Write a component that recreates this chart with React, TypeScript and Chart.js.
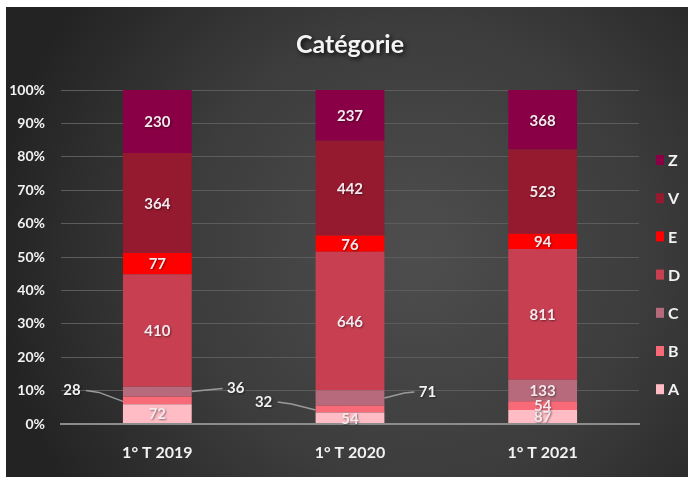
import React, { useEffect, useRef } from "react";
import { Chart, registerables } from "chart.js";

Chart.register(...registerables);

const categories = ["1° T 2019", "1° T 2020", "1° T 2021"];
const seriesNames = ["A", "B", "C", "D", "E", "V", "Z"];
const valuesA = [72, 54, 87];
const valuesB = [28, 32, 54];
const valuesC = [36, 71, 133];
const valuesD = [410, 646, 811];
const valuesE = [77, 76, 94];
const valuesV = [364, 442, 523];
const valuesZ = [230, 237, 368];
const yTickValues = [0, 10, 20, 30, 40, 50, 60, 70, 80, 90, 100];
const titleText = "Catégorie";

const seriesValues = [valuesA, valuesB, valuesC, valuesD, valuesE, valuesV, valuesZ];
const seriesColors = ["#ffbcc5", "#f96a78", "#b66a7b", "#c83f52", "#ff0000", "#951a30", "#8a0046"];

// labels drawn outside the bar with a leader line (series index, category index, side, offsets)
const outsideLabels = [
  { s: 1, c: 0, side: "left", dx: -51, dy: -10 },
  { s: 2, c: 0, side: "right", dx: 44, dy: -3 },
  { s: 1, c: 1, side: "left", dx: -52, dy: -7 },
  { s: 2, c: 1, side: "right", dx: 43, dy: -6 },
];

const FONT = "Lato, 'DejaVu Sans', sans-serif";

const bgPlugin = {
  id: "bg",
  beforeDraw(chart: any) {
    const { ctx, width, height } = chart;
    ctx.save();
    const g = ctx.createRadialGradient(width * 0.6, height * 0.52, 0, width * 0.6, height * 0.52, width * 0.62);
    g.addColorStop(0, "#4e4e4e");
    g.addColorStop(0.55, "#3c3c3c");
    g.addColorStop(1, "#232323");
    ctx.fillStyle = g;
    ctx.fillRect(0, 0, width, height);
    ctx.restore();
  },
};

const overlayPlugin = {
  id: "overlay",
  afterDraw(chart: any) {
    const { ctx, chartArea } = chart;
    ctx.save();
    // title
    ctx.font = `bold 25px ${FONT}`;
    ctx.textAlign = "center";
    ctx.textBaseline = "middle";
    ctx.shadowColor = "rgba(0,0,0,0.75)";
    ctx.shadowBlur = 4;
    ctx.shadowOffsetX = 2;
    ctx.shadowOffsetY = 2;
    ctx.fillStyle = "#f4f4f4";
    ctx.fillText(titleText, 344, 38);
    ctx.shadowColor = "rgba(0,0,0,0.45)";
    ctx.shadowBlur = 2;
    ctx.shadowOffsetX = 1;
    ctx.shadowOffsetY = 1;

    // data labels
    ctx.font = `bold 15px ${FONT}`;
    chart.data.datasets.forEach((ds: any, si: number) => {
      const meta = chart.getDatasetMeta(si);
      meta.data.forEach((bar: any, ci: number) => {
        const raw = seriesValues[si][ci];
        const half = bar.width / 2;
        const yc = (bar.y + bar.base) / 2;
        const out = outsideLabels.find((o) => o.s === si && o.c === ci);
        if (out) {
          const edge = out.side === "left" ? bar.x - half : bar.x + half;
          const lx = edge + out.dx;
          const ly = yc + out.dy;
          ctx.save();
          ctx.shadowColor = "transparent";
          ctx.strokeStyle = "#9a9a9a";
          ctx.lineWidth = 1.5;
          ctx.beginPath();
          if (out.side === "left") {
            ctx.moveTo(lx + 14, ly);
            ctx.lineTo(edge - 24, ly + 2);
            ctx.lineTo(edge, yc + 1);
          } else {
            ctx.moveTo(edge, yc);
            ctx.lineTo(edge + 20, ly + 1);
            ctx.lineTo(lx - 13, ly);
          }
          ctx.stroke();
          ctx.restore();
          ctx.fillStyle = "#f2f2f2";
          ctx.textAlign = "center";
          ctx.fillText(String(raw), lx, ly);
        } else {
          ctx.fillStyle = "#f6e9ee";
          ctx.textAlign = "center";
          ctx.fillText(String(raw), bar.x, yc + 1);
        }
      });
    });

    // legend (reversed)
    ctx.shadowColor = "transparent";
    const n = chart.data.datasets.length;
    ctx.font = `bold 16px ${FONT}`;
    ctx.textAlign = "left";
    for (let k = 0; k < n; k++) {
      const si = n - 1 - k;
      const y = 153 + k * 38.2;
      ctx.fillStyle = seriesColors[si];
      ctx.fillRect(chartArea.right + 17, y - 5, 8, 10);
      ctx.fillStyle = "#f2f2f2";
      ctx.fillText(seriesNames[si], chartArea.right + 29, y + 1);
    }
    ctx.restore();
  },
};

export default function App() {
  const canvasRef = useRef<HTMLCanvasElement | null>(null);

  useEffect(() => {
    if (!canvasRef.current) return;
    const totals = categories.map((_, ci) => seriesValues.reduce((a, s) => a + s[ci], 0));
    const datasets = seriesNames.map((name, si) => ({
      label: name,
      data: seriesValues[si].map((v, ci) => (v / totals[ci]) * 100),
      backgroundColor: seriesColors[si],
      borderWidth: 0,
      barPercentage: 0.357,
      categoryPercentage: 1,
    }));

    const chart = new Chart(canvasRef.current, {
      type: "bar",
      data: { labels: categories, datasets },
      plugins: [bgPlugin, overlayPlugin],
      options: {
        animation: false,
        responsive: false,
        maintainAspectRatio: false,
        layout: { padding: { top: 83, right: 49, bottom: 10, left: 0 } },
        plugins: {
          legend: { display: false },
          title: { display: false },
          tooltip: { enabled: false },
        },
        scales: {
          x: {
            stacked: true,
            grid: { display: false },
            border: { display: true, color: "#8c8c8c", width: 2 },
            ticks: {
              color: "#f2f2f2",
              font: { family: FONT, size: 16, weight: "bold" },
              padding: 11,
            },
            afterFit: (s: any) => {
              s.height = 43;
            },
          },
          y: {
            stacked: true,
            min: 0,
            max: 100,
            afterBuildTicks: (s: any) => {
              s.ticks = yTickValues.map((v) => ({ value: v }));
            },
            afterFit: (s: any) => {
              s.width = 55;
            },
            grid: {
              color: (c: any) => (c.tick && c.tick.value === 0 ? "#8c8c8c" : "#5c5c5c"),
              lineWidth: (c: any) => (c.tick && c.tick.value === 0 ? 2 : 1),
              drawTicks: false,
            },
            border: { display: false },
            ticks: {
              color: "#f2f2f2",
              font: { family: FONT, size: 14, weight: "bold" },
              padding: 16,
              callback: (v: any) => `${v}%`,
            },
          },
        },
      },
    });
    return () => chart.destroy();
  }, []);

  return (
    <div style={{ position: "fixed", left: 0, top: 0, width: 688, height: 477, background: "#ffffff" }}>
      <canvas
        ref={canvasRef}
        width={682}
        height={470}
        style={{ position: "absolute", left: 6, top: 7, width: 682, height: 470 }}
      />
    </div>
  );
}
